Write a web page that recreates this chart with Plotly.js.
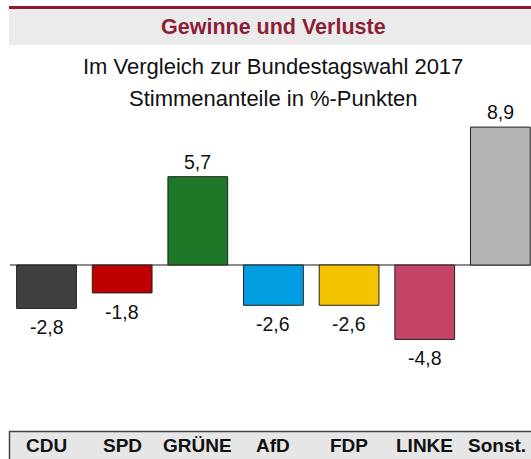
<!DOCTYPE html>
<html>
<head>
<meta charset="utf-8">
<script src="https://cdn.plot.ly/plotly-3.0.1.min.js"></script>
<style>
html,body{margin:0;padding:0;background:#fff;}
#chart{width:531px;height:459px;}
</style>
</head>
<body>
<div id="chart"></div>
<script>
// Data
const parties = ["CDU", "SPD", "GRÜNE", "AfD", "FDP", "LINKE", "Sonst."];
const changes = [-2.8, -1.8, 5.7, -2.6, -2.6, -4.8, 8.9];
const partyColors = ["#404040", "#be0000", "#1e7828", "#009ee0", "#f4c300", "#c44468", "#b4b4b4"];
const titleText = "Gewinne und Verluste";
const subtitleLines = ["Im Vergleich zur Bundestagswahl 2017", "Stimmenanteile in %-Punkten"];

// Layout helpers (pixel -> paper), plot area is 531 x 431
const W = 531, PH = 431;
const px = x => x / W;
const py = y => 1 - y / PH;
const FONT = "Liberation Sans, Arial, sans-serif";

const fmt = v => v.toFixed(1).replace('.', ',');

const trace = {
  type: 'bar',
  x: parties,
  y: changes,
  marker: { color: partyColors, line: { color: '#222222', width: 1 } },
  hoverinfo: 'none',
  cliponaxis: false
};

const annotations = [];
// value labels
parties.forEach((p, i) => {
  const v = changes[i];
  annotations.push({
    x: p, y: v, xref: 'x', yref: 'y',
    text: fmt(v), showarrow: false,
    yanchor: 'middle', yshift: v >= 0 ? 15 : -19,
    font: { family: FONT, size: 19.5, color: '#111111' }
  });
});
// category labels in bottom band
parties.forEach((p, i) => {
  annotations.push({
    x: p, y: py(445.5), xref: 'x', yref: 'paper',
    text: '<b>' + p + '</b>', showarrow: false,
    yanchor: 'middle', xshift: i === parties.length - 1 ? -3 : 0,
    font: { family: FONT, size: 19, color: '#111111' }
  });
});
// title & subtitles
annotations.push({
  x: px(273), y: py(27), xref: 'paper', yref: 'paper',
  text: '<b>' + titleText + '</b>', showarrow: false, yanchor: 'middle',
  font: { family: FONT, size: 21.5, color: '#8b1f35' }
});
subtitleLines.forEach((s, i) => {
  annotations.push({
    x: px(273), y: py(66 + 32 * i), xref: 'paper', yref: 'paper',
    text: s, showarrow: false, yanchor: 'middle',
    font: { family: FONT, size: 22, color: '#111111' }
  });
});

const shapes = [
  // header grey box
  { type: 'rect', xref: 'paper', yref: 'paper', x0: px(9), x1: 1, y0: py(45), y1: py(8.5),
    fillcolor: '#ebebeb', line: { width: 0 }, layer: 'below' },
  // header red line
  { type: 'rect', xref: 'paper', yref: 'paper', x0: px(9), x1: 1, y0: py(9), y1: py(6),
    fillcolor: '#8b1a2e', line: { width: 0 }, layer: 'below' },
  // zero line
  { type: 'line', xref: 'paper', yref: 'y', x0: px(10), x1: 1, y0: 0, y1: 0,
    line: { color: '#8c8c8c', width: 2 }, layer: 'below' },
  // bottom grey band
  { type: 'rect', xref: 'paper', yref: 'paper', x0: px(9), x1: 1.01, y0: py(431), y1: py(462),
    fillcolor: '#e6e6e6', line: { width: 0 }, layer: 'below' },
  { type: 'line', xref: 'paper', yref: 'paper', x0: px(9), x1: 1, y0: py(431.5), y1: py(431.5),
    line: { color: '#444444', width: 1.5 } },
  { type: 'line', xref: 'paper', yref: 'paper', x0: px(9.5), x1: px(9.5), y0: py(431), y1: py(462),
    line: { color: '#444444', width: 1.5 } }
];

const layout = {
  width: 531, height: 459,
  margin: { l: 0, r: 0, t: 0, b: 28, pad: 0 },
  paper_bgcolor: '#ffffff', plot_bgcolor: 'rgba(0,0,0,0)',
  showlegend: false,
  bargap: 0.21,
  xaxis: { range: [-0.615, 6.405], showticklabels: false, showgrid: false, zeroline: false,
           showline: false, ticks: '', fixedrange: true },
  yaxis: { range: [-10.71, 17.10], showticklabels: false, showgrid: false, zeroline: false,
           showline: false, ticks: '', fixedrange: true },
  annotations: annotations,
  shapes: shapes,
  font: { family: FONT }
};

Plotly.newPlot('chart', [trace], layout, { staticPlot: true, displayModeBar: false });
</script>
</body>
</html>
